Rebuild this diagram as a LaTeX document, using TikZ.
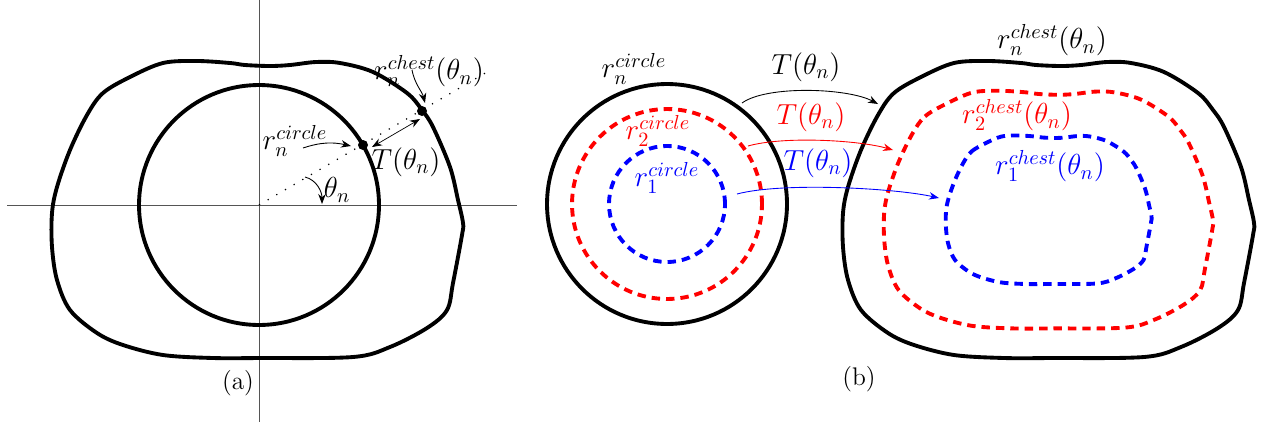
\RequirePackage{fix-cm}
\documentclass[tikz,border=0pt]{standalone}
\usepackage{amsmath,amssymb}
\usetikzlibrary{arrows.meta,positioning,calc}
\definecolor{axisgray}{HTML}{555555}
\definecolor{ringred}{HTML}{FF0000}
\definecolor{ringblue}{HTML}{0000FF}
\newcommand{\chestshape}{plot[smooth cycle, tension=0.55] coordinates {
  (-171,-95) (-155,-117) (-128,-133) (-95,-147) (-61,-149) (-28,-147)
  (-13,-145) (12,-144) (32,-145) (58,-148) (82,-147) (115,-138)
  (149,-117) (164,-100) (175,-83) (192,-43) (200,-10) (205,13)
  (204,25) (195,73) (189,100) (169,118) (132,137) (95,147)
  (2,148) (-45,148) (-95,145) (-135,135) (-161,123) (-188,100)
  (-201,70) (-206,37) (-206,3) (-201,-23) (-188,-60)}}

\begin{document}
\begin{tikzpicture}[
  x=0.02cm, y=-0.02cm,
  outline/.style={line width=2.2pt, line join=round},
  ringdash/.style={line width=2.2pt, dash pattern=on 4.8pt off 3.4pt},
  axis/.style={axisgray, line width=0.5pt},
  ray/.style={line width=0.7pt, dash pattern=on 0.7pt off 5pt},
  pointer/.style={-{Stealth[length=2mm,width=1.5mm]}, line width=0.5pt},
  twoway/.style={{Stealth[length=2mm,width=1.5mm]}-{Stealth[length=2mm,width=1.5mm]}, line width=0.4pt},
  lbl/.style={font=\fontsize{16.5}{19}\selectfont, inner sep=0pt},
  sublbl/.style={font=\fontsize{14.5}{17}\selectfont, inner sep=0pt},
  jointdot/.style={circle, fill, inner sep=0pt, minimum size=0.2cm},
]
  \useasboundingbox (0,0) rectangle (1266,427);

  % (a)
  \coordinate (o) at (259,205);
  \draw[axis] (7,205) -- (517,205);
  \draw[axis] (259,0) -- (259,422);
  \draw[outline] (o) circle[radius=2.4cm];
  \draw[outline, shift={(258,210)}] \chestshape;
  \coordinate (rayend) at (487,72);
  \draw[ray] (o) -- (rayend);
  \node[jointdot] (pc) at (363,145) {};
  \node[jointdot] (pk) at (422,111) {};

  \node[lbl] (chestlbl) at (429,71) {$r_n^{chest}(\theta_n)$};
  \node[lbl] (circlbl) at (295,141) {$r_n^{circle}$};
  \node[lbl] (tlbl) at (406,162) {$T(\theta_n)$};
  \node[lbl] (thlbl) at (337,190) {$\theta_n$};
  \node[sublbl] (alab) at (238,383) {(a)};

  \coordinate (chestfrom) at (412,70);
  \coordinate (chestto) at (425,103);
  \coordinate (circfrom) at (303,148);
  \coordinate (circto) at (351,146);
  \coordinate (tfrom) at (372,147);
  \coordinate (tto) at (420,119);
  \coordinate (thfrom) at (305,177);
  \coordinate (thto) at (322,204);
  \draw[pointer] (chestfrom) .. controls +(3,15) and +(-3,-12) .. (chestto);
  \draw[pointer] (circfrom) .. controls +(18,-6) and +(-18,-4) .. (circto);
  \draw[twoway] (tfrom) -- (tto);
  \draw[pointer] (thfrom) .. controls +(12,3) and +(0,-12) .. (thto);

  % (b)
  \coordinate (ob) at (667,204);
  \draw[outline] (ob) circle[radius=2.4cm];
  \draw[ringdash, ringred] (ob) circle[radius=1.9cm];
  \draw[ringdash, ringblue] (ob) circle[radius=1.16cm];
  \draw[outline, shift={(1049,210)}] \chestshape;
  \draw[ringdash, ringred, shift={(1049,210)}, scale=0.8] \chestshape;
  \draw[ringdash, ringblue, shift={(1049,210)}, scale=0.5] \chestshape;

  \node[lbl] (rcn) at (634,69) {$r_n^{circle}$};
  \node[lbl, ringred] (rc2) at (658,131) {$r_2^{circle}$};
  \node[lbl, ringblue] (rc1) at (667,178) {$r_1^{circle}$};
  \node[lbl] (tn) at (806,67) {$T(\theta_n)$};
  \node[lbl, ringred] (t2) at (811,117) {$T(\theta_n)$};
  \node[lbl, ringblue] (t1) at (818,163) {$T(\theta_n)$};
  \node[lbl] (rkn) at (1052,40) {$r_n^{chest}(\theta_n)$};
  \node[lbl, ringred] (rk2) at (1017,115) {$r_2^{chest}(\theta_n)$};
  \node[lbl, ringblue] (rk1) at (1050,166) {$r_1^{chest}(\theta_n)$};
  \node[sublbl] (blab) at (859,379) {(b)};

  \coordinate (mapn) at (742,103);
  \coordinate (hitn) at (878,104);
  \coordinate (map2) at (748,146);
  \coordinate (hit2) at (893,150);
  \coordinate (map1) at (737,194);
  \coordinate (hit1) at (939,198);
  \draw[pointer] (mapn) .. controls +(25,-18) and +(-30,-16) .. (hitn);
  \draw[pointer, ringred] (map2) .. controls +(35,-10) and +(-35,-10) .. (hit2);
  \draw[pointer, ringblue] (map1) .. controls +(45,-12) and +(-45,-10) .. (hit1);
\end{tikzpicture}
\end{document}
